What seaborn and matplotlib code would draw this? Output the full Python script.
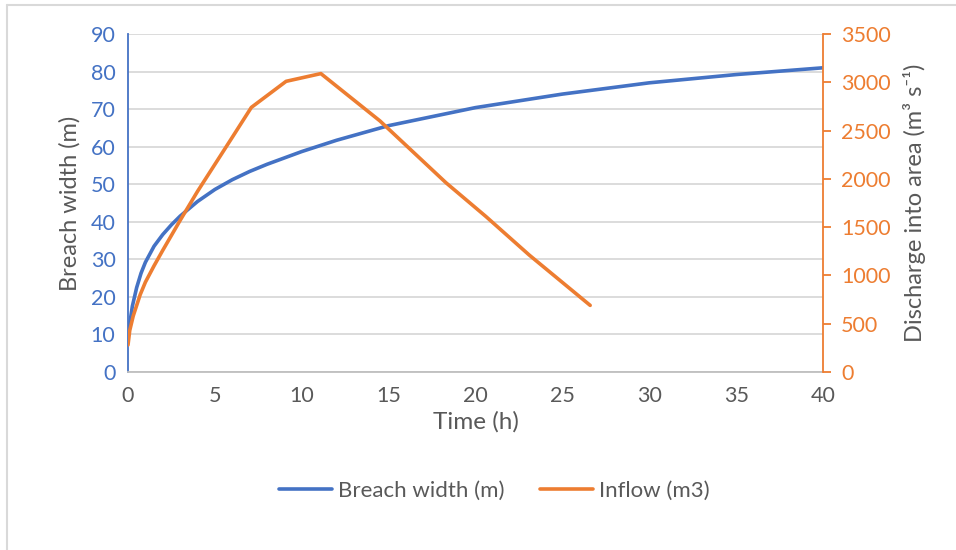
import matplotlib
matplotlib.use("Agg")
import matplotlib.pyplot as plt
import matplotlib.lines as mlines
import seaborn as sns
import pandas as pd

# Data
time_breach = [0, 0.12, 0.25, 0.5, 0.75, 1, 1.5, 2, 2.5, 3, 4, 5, 6, 7, 8, 10, 12, 15, 20, 25, 30, 35, 40]
breach_width = [10, 13.5, 17.5, 22.5, 26.3, 29.2, 33.5, 36.6, 39.2, 41.5, 45.4, 48.6, 51.2, 53.4, 55.3, 58.7, 61.7, 65.6, 70.4, 74, 77, 79.2, 81]

time_inflow = [0, 0.1, 0.3, 0.7, 1, 1.5, 2, 3, 4, 5, 6, 7.1, 9.1, 11.1, 14.5, 18.3, 20.6, 23.1, 26.6]
inflow = [280, 430, 580, 800, 930, 1100, 1260, 1570, 1870, 2150, 2430, 2740, 3010, 3090, 2600, 1960, 1610, 1210, 690]

x_ticks = [0, 5, 10, 15, 20, 25, 30, 35, 40]
left_ticks = [0, 10, 20, 30, 40, 50, 60, 70, 80, 90]
right_ticks = [0, 500, 1000, 1500, 2000, 2500, 3000, 3500]

BLUE = "#4472C4"
ORANGE = "#ED7D31"
GREY_TXT = "#595959"
GRID = "#D9D9D9"

sns.set_style("white")
plt.rcParams["font.family"] = ["Lato", "DejaVu Sans"]

df_b = pd.DataFrame({"Time (h)": time_breach, "Breach width (m)": breach_width})
df_i = pd.DataFrame({"Time (h)": time_inflow, "Inflow (m3)": inflow})

fig = plt.figure(figsize=(9.56, 5.5), dpi=100)
ax = fig.add_axes([128 / 956, 1 - 372 / 550, (823 - 128) / 956, (372 - 34) / 550])
ax2 = ax.twinx()

sns.lineplot(data=df_b, x="Time (h)", y="Breach width (m)", ax=ax, color=BLUE, lw=2.6, zorder=3)
sns.lineplot(data=df_i, x="Time (h)", y="Inflow (m3)", ax=ax2, color=ORANGE, lw=2.6, zorder=3)

ax.set_xlim(0, 40)
ax.set_ylim(0, 90)
ax2.set_ylim(0, 3500)
ax.set_xticks(x_ticks)
ax.set_yticks(left_ticks)
ax2.set_yticks(right_ticks)

ax.yaxis.grid(True, color=GRID, lw=1.3)
ax.set_axisbelow(True)

for s in ["top", "right"]:
    ax.spines[s].set_visible(False)
ax.spines["left"].set_color(BLUE)
ax.spines["left"].set_linewidth(1.3)
ax.spines["bottom"].set_color("#BFBFBF")
ax.spines["bottom"].set_linewidth(1.3)
for s in ["top", "left", "bottom"]:
    ax2.spines[s].set_visible(False)
ax2.spines["right"].set_color(ORANGE)
ax2.spines["right"].set_linewidth(1.3)

ax.tick_params(axis="y", colors=BLUE, labelcolor=BLUE, length=0, labelsize=15.5, pad=9)
ax.tick_params(axis="x", colors=GREY_TXT, length=0, labelsize=15.5, pad=10)
ax2.tick_params(axis="y", colors=ORANGE, labelcolor=ORANGE, length=6, width=1.3, labelsize=15.5, pad=7)

ax.set_xlabel("Time (h)", fontsize=17.5, color=GREY_TXT, labelpad=4)
ax.set_ylabel("Breach width (m)", fontsize=17, color=GREY_TXT, labelpad=7)
ax2.set_ylabel("Discharge into area (m³ s⁻¹)", fontsize=17, color=GREY_TXT, labelpad=9)

h1 = mlines.Line2D([], [], color=BLUE, lw=2.6)
h2 = mlines.Line2D([], [], color=ORANGE, lw=2.6)
fig.legend([h1, h2], ["Breach width (m)", "Inflow (m3)"], loc="center",
           bbox_to_anchor=(494 / 956, 1 - 491 / 550), ncol=2, frameon=False,
           fontsize=16, handlelength=2.4, columnspacing=1.6, handletextpad=0.25,
           labelcolor=GREY_TXT)

# chart frame (top and left edges visible in reference)
fig.add_artist(mlines.Line2D([7 / 956, 7 / 956], [0, 1 - 4.5 / 550], transform=fig.transFigure, color=GRID, lw=1.5))
fig.add_artist(mlines.Line2D([7 / 956, 1], [1 - 4.5 / 550, 1 - 4.5 / 550], transform=fig.transFigure, color=GRID, lw=1.5))

fig.savefig("out.png", dpi=100)
